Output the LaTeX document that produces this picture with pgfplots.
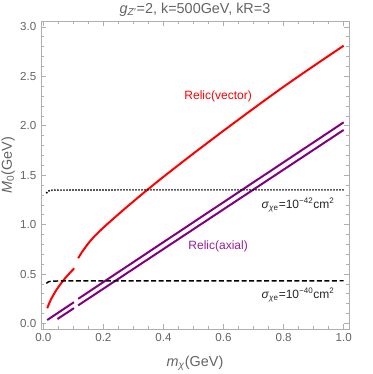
\documentclass[border=0pt]{standalone}
\usepackage{fontspec}
\setmainfont{Liberation Sans}
\usepackage{pgfplots}
\pgfplotsset{compat=1.18}
\definecolor{txtgray}{RGB}{100,100,100}
\definecolor{framegray}{RGB}{175,175,175}
\definecolor{mpurple}{RGB}{128,0,128}
\definecolor{lpurple}{RGB}{150,30,155}
\begin{document}
\begin{tikzpicture}[font=\fontsize{8.5}{10}\selectfont]
\begin{axis}[
  at={(0,0)}, anchor=south west,
  scale only axis, width=231pt, height=231pt,
  xmin=-0.0077, xmax=1.0177, ymin=-0.056, ymax=3.06,
  xtick={0,0.2,0.4,0.6,0.8,1}, minor x tick num=3,
  ytick={0,0.5,1,1.5,2,2.5,3}, minor y tick num=4,
  tick align=inside,
  major tick length=3.75pt, minor tick length=2.2pt,
  axis line style={framegray, line width=0.6pt},
  every tick/.style={framegray, line width=0.5pt},
  tick label style={txtgray, font=\fontsize{8.7}{10}\selectfont},
  /pgf/number format/.cd, fixed, fixed zerofill, precision=1, assume math mode=true,
  /pgfplots/.cd,
  clip=false,
]
% Relic (vector)
\addplot[red, line width=1.5pt, smooth] coordinates {
 (0.013,0.154) (0.016,0.178) (0.02,0.207) (0.025,0.240) (0.03,0.269) (0.04,0.322)
 (0.05,0.368) (0.06,0.409) (0.07,0.448) (0.08,0.483) (0.09,0.517) (0.103,0.558)};
\addplot[red, line width=1.5pt, smooth] coordinates {
 (0.116,0.66) (0.13,0.728) (0.155,0.83) (0.18,0.912) (0.211,1.0) (0.24,1.078)
 (0.266,1.147) (0.3,1.235) (0.322,1.291) (0.35,1.361) (0.382,1.44) (0.421,1.534)
 (0.5,1.72) (0.6,1.95) (0.7,2.175) (0.8,2.395) (0.9,2.605) (1.0,2.81)};
% Relic (axial)
\addplot[mpurple, line width=1.5pt] coordinates {(0.013,0.035) (0.102,0.215)};
\addplot[mpurple, line width=1.5pt] coordinates {(0.116,0.249) (1.0,2.035)};
\addplot[mpurple, line width=1.5pt] coordinates {(0.047,0.045) (0.102,0.155)};
\addplot[mpurple, line width=1.5pt] coordinates {(0.116,0.183) (1.0,1.958)};
% sigma = 1e-42
\addplot[black, line width=1.15pt, dash pattern=on 1.1pt off 1.15pt] coordinates {
 (0.01,1.317) (0.015,1.335) (0.02,1.343) (0.03,1.348) (0.05,1.35) (1.0,1.352)};
% sigma = 1e-40
\addplot[black, line width=1.1pt, dash pattern=on 3.75pt off 1.9pt] coordinates {
 (0.01,0.405) (0.015,0.418) (0.02,0.424) (0.03,0.428) (0.05,0.43) (1.0,0.432)};
\node[red, font=\fontsize{9}{10}\selectfont] at (axis cs:0.582,2.293) {Relic(vector)};
\node[lpurple, font=\fontsize{9}{10}\selectfont] at (axis cs:0.582,0.783) {Relic(axial)};
\node[black!85, font=\fontsize{9}{10}\selectfont] at (axis cs:0.848,1.20) {\textit{σ}\textsubscript{\textit{χ}e}=10\textsuperscript{−42}cm\textsuperscript{2}};
\node[black!85, font=\fontsize{9}{10}\selectfont] at (axis cs:0.848,0.287) {\textit{σ}\textsubscript{\textit{χ}e}=10\textsuperscript{−40}cm\textsuperscript{2}};
\node[txtgray, font=\fontsize{10.8}{12}\selectfont] at (rel axis cs:0.5,1) [yshift=8.5pt] {\textit{g}\textsubscript{\textit{Z}′}=2, k=500GeV, kR=3};
\node[txtgray, font=\fontsize{10.8}{12}\selectfont] at (rel axis cs:0.5,0) [yshift=-25.5pt] {\textit{m}\textsubscript{\textit{χ}}(GeV)};
\node[txtgray, font=\fontsize{10.8}{12}\selectfont, rotate=90] at (rel axis cs:-0.107,0.532) {\textit{M}\textsubscript{0}(GeV)};
\end{axis}
\pgfresetboundingbox
\path[use as bounding box] (-30.75pt,-33.75pt) rectangle (248.25pt,246.75pt);
\end{tikzpicture}
\end{document}
